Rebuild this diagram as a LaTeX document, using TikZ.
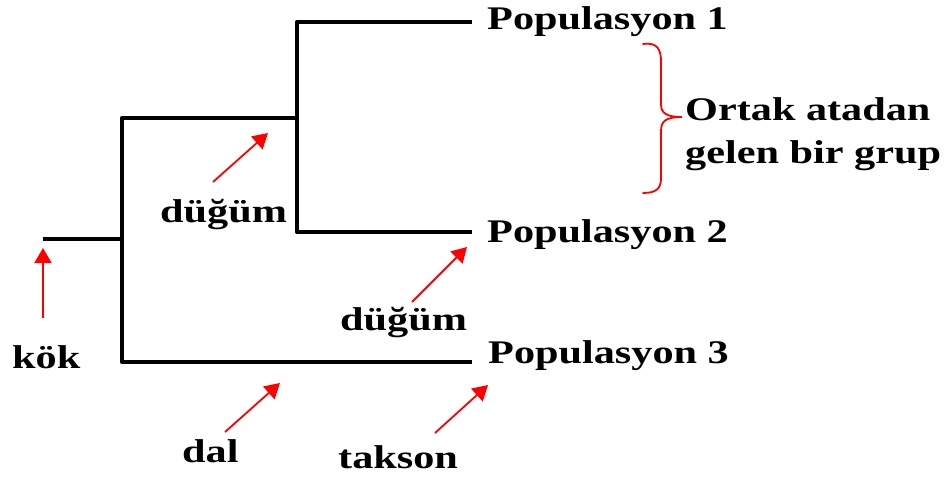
\documentclass[tikz,border=0pt]{standalone}
\usepackage{fontspec}
\setmainfont{Liberation Serif}
\usetikzlibrary{arrows.meta}
\newcommand{\wide}[1]{\scalebox{1.28}[1]{#1}}
\tikzset{
  branch/.style={line width=4.6pt, line join=round, line cap=butt},
  pointer/.style={red, line width=1.8pt, -{Triangle[length=15pt,width=17pt]}},
  lbl/.style={anchor=base west, inner sep=0pt, font=\fontsize{33}{40}\selectfont\bfseries},
  groupbrace/.style={red, line width=1.8pt, line cap=round}
}
\begin{document}
\begin{tikzpicture}[x=1pt, y=-1pt]
\useasboundingbox (0,0) rectangle (944,479);

% tree junctions and leaves
\coordinate (root) at (43,239);
\coordinate (rootj) at (122,239);
\coordinate (a1) at (122,118);
\coordinate (a2) at (122,362);
\coordinate (b) at (297,118);
\coordinate (b1) at (297,22);
\coordinate (b2) at (297,232);
\coordinate (t1) at (472,22);
\coordinate (t2) at (472,232);
\coordinate (t3) at (472,362);

% branches
\draw[branch] (t1) -- (b1) -- (b2) -- (t2);
\draw[branch] (b) -- (a1) -- (a2) -- (t3);
\draw[branch] (root) -- (rootj);

% leaf labels
\node[lbl] (p1) at (487,29) {\wide{Populasyon 1}};
\node[lbl] (p2) at (487,242) {\wide{Populasyon 2}};
\node[lbl] (p3) at (488,363) {\wide{Populasyon 3}};

% brace around the clade
\draw[groupbrace] (643,44) .. controls (658,42) and (661,50) .. (661,62)
  -- (661,104) .. controls (661,113) and (666,117) .. (682,117)
  .. controls (666,117) and (661,121) .. (661,131)
  -- (661,178) .. controls (661,188) and (657,193) .. (643,193);
\node[lbl] (grp1) at (685,120) {\wide{Ortak atadan}};
\node[lbl] (grp2) at (685,163) {\wide{gelen bir grup}};

% annotations
\node[lbl] (kok) at (12,368) {\wide{kök}};
\node[lbl] (dug1) at (160,222) {\wide{düğüm}};
\node[lbl] (dug2) at (340,330) {\wide{düğüm}};
\node[lbl] (dal) at (182,462) {\wide{dal}};
\node[lbl] (takson) at (338,468) {\wide{takson}};

\coordinate (kokT) at (43,318);   \coordinate (kokH) at (43,248);
\coordinate (d1T) at (213,182);   \coordinate (d1H) at (268,133);
\coordinate (d2T) at (412,302);   \coordinate (d2H) at (467,247);
\coordinate (dalT) at (225,432);  \coordinate (dalH) at (280,383);
\coordinate (takT) at (435,433);  \coordinate (takH) at (488,385);

\draw[pointer] (kokT) -- (kokH);
\draw[pointer] (d1T) -- (d1H);
\draw[pointer] (d2T) -- (d2H);
\draw[pointer] (dalT) -- (dalH);
\draw[pointer] (takT) -- (takH);
\end{tikzpicture}
\end{document}
